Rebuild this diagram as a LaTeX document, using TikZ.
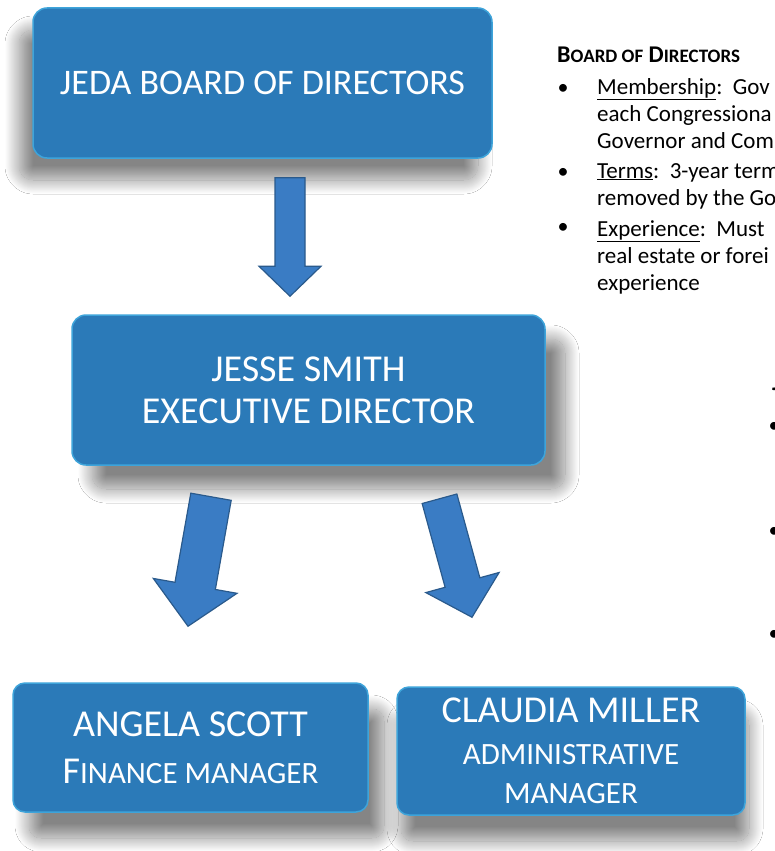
\documentclass[tikz,border=0pt]{standalone}
\usepackage{fontspec}
\setmainfont{Carlito}
\usetikzlibrary{calc,positioning,shadows.blur}

\definecolor{boxblue}{RGB}{43,122,184}
\definecolor{boxrim}{RGB}{62,164,218}
\definecolor{arrowblue}{RGB}{58,124,196}
\definecolor{arrowline}{RGB}{42,90,140}

\tikzset{
  orgbox/.style={rectangle, rounded corners=14pt, fill=boxblue, draw=boxrim,
    line width=1.5pt, text=white, align=center, inner sep=0pt},
  boxshadow/.style 2 args={blur shadow={shadow xshift=#1, shadow yshift=#2,
    shadow blur radius=14pt, shadow blur steps=30, shadow opacity=48}},
  flowarrow/.style={fill=arrowblue, draw=arrowline, line width=1.2pt, line join=miter},
  infotext/.style={anchor=base west, inner sep=0pt, align=left, font=\fontsize{23}{27}\selectfont},
  bullet/.style={anchor=base, inner sep=0pt, font=\fontsize{22}{27}\selectfont}
}

% small caps faked by size
\newcommand{\boxsc}[1]{{\fontsize{31}{36}\selectfont #1}}
\newcommand{\headsc}[1]{{\fontsize{19}{22}\selectfont #1}}

% block arrow from #1 to #2: shaft width #3, head width #4, head length #5
\newcommand{\blockarrow}[5]{%
  \draw[flowarrow] let \p1=($(#2)-(#1)$), \n1={veclen(\x1,\y1)}, \n2={atan2(\y1,\x1)} in
    [shift={(#1)}, rotate=\n2]
    (0pt,-#3pt/2) -- (\n1-#5pt,-#3pt/2) -- (\n1-#5pt,-#4pt/2) -- (\n1,0pt)
    -- (\n1-#5pt,#4pt/2) -- (\n1-#5pt,#3pt/2) -- (0pt,#3pt/2) -- cycle;}

\begin{document}
\begin{tikzpicture}[x=1pt,y=-1pt]
  \useasboundingbox[fill=white] (0,0) rectangle (774,851);

  % boxes
  \node[orgbox, boxshadow={-14pt}{-22pt}, minimum width=459pt, minimum height=150pt,
        font=\fontsize{36}{44}\selectfont] at (262.5,83) (board) {\raisebox{-4pt}{JEDA BOARD OF DIRECTORS}};
  \node[orgbox, boxshadow={20pt}{-24pt}, minimum width=473pt, minimum height=150pt,
        font=\fontsize{38}{42}\selectfont] at (308.5,390) (ceo) {JESSE SMITH\\EXECUTIVE DIRECTOR};
  \node[orgbox, boxshadow={16pt}{-26pt}, minimum width=355pt, minimum height=129pt,
        rounded corners=12pt, font=\fontsize{38}{47}\selectfont] at (190.5,747.5) (finance)
        {ANGELA SCOTT\\F\boxsc{INANCE MANAGER}};
  \node[orgbox, boxshadow={4pt}{-26pt}, minimum width=348pt, minimum height=128pt,
        rounded corners=12pt, font=\fontsize{38}{42}\selectfont] at (571,751) (admin)
        {CLAUDIA MILLER\\\boxsc{ADMINISTRATIVE}\\[-3pt]\boxsc{MANAGER}};

  % arrow ends
  \coordinate (board-tail) at ([xshift=27.5pt,yshift=-19pt]board.south);
  \coordinate (board-tip) at ([xshift=-18.5pt,yshift=18pt]ceo.north);
  \coordinate (fin-tail) at ([xshift=-97.5pt,yshift=-31pt]ceo.south);
  \coordinate (fin-tip) at ([xshift=-2.5pt,yshift=56pt]finance.north);
  \coordinate (adm-tail) at ([xshift=131pt,yshift=-33pt]ceo.south);
  \coordinate (adm-tip) at ([xshift=-99pt,yshift=69pt]admin.north);

  \blockarrow{board-tail}{board-tip}{30}{62}{30}
  \blockarrow{fin-tail}{fin-tip}{41}{85}{41}
  \blockarrow{adm-tail}{adm-tip}{36}{76}{36}

  % board notes (base is the last line)
  \node[anchor=base west, inner sep=0pt, font=\fontsize{24}{27}\selectfont\bfseries] at (557,63) (boardhead)
        {B\headsc{OARD OF} D\headsc{IRECTORS}};
  \node[bullet] at (563,95) (b1) {•};
  \node[infotext] at (597,148) (membership) {\underline{Membership}:\ \ Gov\\each Congressiona\\Governor and Com};
  \node[bullet] at (563,178) (b2) {•};
  \node[infotext] at (597,205) (terms) {\underline{Terms}:\ \ 3-year term\\removed by the Go};
  \node[bullet] at (563,233) (b3) {•};
  \node[infotext] at (597,290) (experience) {\underline{Experience}:\ \ Must\\real estate or forei\\experience};

  % staff notes, cut at the edge
  \node[anchor=base west, inner sep=0pt, font=\fontsize{24}{27}\selectfont\bfseries] at (772,390) (staffhead) {J};
  \node[bullet] at (774,432) (s1) {•};
  \node[bullet] at (774,537) (s2) {•};
  \node[bullet] at (774,640) (s3) {•};
\end{tikzpicture}
\end{document}
